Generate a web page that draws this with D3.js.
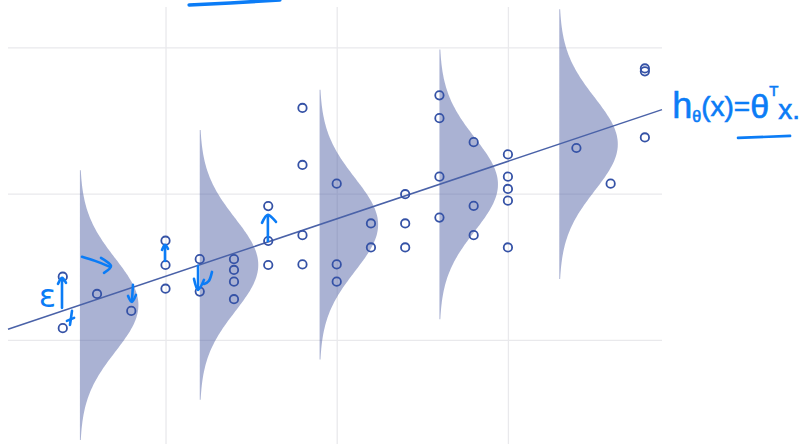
<!DOCTYPE html>
<html><head><meta charset="utf-8">
<script src="https://cdn.jsdelivr.net/npm/d3@7"></script>
<style>body{margin:0;background:#fff}svg{display:block}</style>
</head><body><svg id="c" width="800" height="444"></svg>
<script>
// ---- data ----
const xTicks = [5, 10, 15];
const yTicks = [0, 25, 50];
const pointX = [2,2, 3, 4, 5,5,5, 6,6, 7,7,7,7, 8,8,8, 9,9,9,9, 10,10,10, 11,11, 12,12,12, 13,13,13,13, 14,14,14, 15,15,15,15,15, 17, 18, 19,19,19];
const pointY = [10.8,2.0, 7.85, 4.95, 16.95,12.8,8.75, 13.8,8.25, 13.8,11.95,9.95,6.95, 22.87,16.9,12.8, 39.64,29.9,17.9,12.9, 26.7,12.9,9.95, 19.9,15.8, 24.9,19.9,15.8, 41.8,37.9,27.9,20.9, 33.8,22.9,17.9, 31.7,27.9,25.8,23.8,15.8, 32.8, 26.7, 46.4,45.9,34.6];
const violinX = [2.5, 6, 9.5, 13, 16.5];
const lineX = [0.4, 19.5];
const lineIntercept = 1.04, lineSlope = 1.965;
const noiseSigma = 7.95;
const violinPeakWidth = 1.71;

// handwritten formula pieces (one text, consecutive tspans)
const formulaText = ["h", "θ", "(x)=", "θ", "T", "x."];
const formulaSize = [36, 16, 28, 34, 15, 28];
const formulaDy = [0, 4, -6, 2, -22, 23];

// annotation strokes (data coordinates)
const strokes = [
  [[5.69,57.26],[6.89,57.6],[8.34,58.1]],
  [[1.977,5.47],[1.977,10.43]], [[1.86,9.57],[1.977,10.6],[2.094,9.74]],
  [[2.269,4.96],[2.24,3.76],[2.21,2.56]], [[2.12,3.25],[2.33,3.76]],
  [[2.561,14.19],[2.941,13.5],[3.379,12.48]], [[3.116,14.02],[3.408,12.65],[3.204,11.45]],
  [[4.05,9.4],[4.02,6.67]], [[3.905,7.52],[4.02,6.5],[4.138,7.69]],
  [[4.985,13.5],[4.985,16.07]], [[4.898,15.38],[4.985,16.24],[5.073,15.56]],
  [[5.95,12.65],[5.95,8.55]], [[5.832,10.43],[5.95,8.55],[6.124,10.26]],
  [[6.358,11.62],[6.27,10.09],[6.124,9.57]],
  [[7.99,16.92],[7.99,21.2]], [[7.818,20.0],[7.99,21.37],[8.227,20.17]],
  [[21.72,34.53],[23.24,34.87]]
];

// ---- scales ----
const x = d3.scaleLinear().domain([0.4, 19.5]).range([8, 662]);
const y = d3.scaleLinear().domain([-17.8, 56.9]).range([444, 7]);
const svg = d3.select("#c");

// grid
svg.append("g").call(d3.axisBottom(x).tickValues(xTicks).tickSize(-(444-7)).tickFormat(""))
  .attr("transform", `translate(0,444)`)
  .call(g => { g.select(".domain").remove(); g.selectAll("line").attr("stroke", "#e9e9ec").attr("stroke-width", 1.3); });
svg.append("g").call(d3.axisLeft(y).tickValues(yTicks).tickSize(-(662-8)).tickFormat(""))
  .attr("transform", `translate(8,0)`)
  .call(g => { g.select(".domain").remove(); g.selectAll("line").attr("stroke", "#e9e9ec").attr("stroke-width", 1.3); });

// violins (gaussian noise model around the line)
const ts = d3.range(-2.9, 2.9001, 0.05);
const area = d3.area().curve(d3.curveBasis)
  .x0(d => x(d.cx)).x1(d => x(d.cx + violinPeakWidth * Math.exp(-d.t*d.t/2)))
  .y(d => y(d.m + d.t * noiseSigma));
svg.append("g").selectAll("path").data(violinX).join("path")
  .attr("d", cx => area(ts.map(t => ({cx, t, m: lineIntercept + lineSlope * cx}))))
  .attr("fill", "#4e5ea3").attr("fill-opacity", 0.48);

// regression line
svg.append("path")
  .attr("d", d3.line()(lineX.map(v => [x(v), y(lineIntercept + lineSlope * v)])))
  .attr("stroke", "#4a62a8").attr("stroke-width", 1.5).attr("fill", "none");

// points
svg.append("g").selectAll("circle").data(pointX).join("circle")
  .attr("cx", d => x(d)).attr("cy", (d, i) => y(pointY[i])).attr("r", 4.2)
  .attr("fill", "none").attr("stroke", "#3552a6").attr("stroke-width", 1.8);

// annotations
const blue = "#0b7cf6";
const ln = d3.line().curve(d3.curveCardinal).x(d => x(d[0])).y(d => y(d[1]));
svg.append("g").selectAll("path").data(strokes).join("path")
  .attr("d", ln).attr("fill", "none").attr("stroke", blue)
  .attr("stroke-width", (d, i) => i === 0 ? 3.5 : 2.6).attr("stroke-linecap", "round").attr("stroke-linejoin", "round");

svg.append("text").attr("x", x(1.30)).attr("y", y(5.6))
  .attr("font-family", "DejaVu Sans").attr("font-size", 32).attr("fill", blue).text("ε");

const ft = svg.append("text").attr("x", x(19.80)).attr("y", y(37.95))
  .attr("font-family", "Liberation Sans, Arial, sans-serif")
  .attr("fill", blue).attr("stroke", blue).attr("stroke-width", 0.6);
ft.selectAll("tspan").data(formulaText).join("tspan")
  .attr("font-size", (d, i) => formulaSize[i]).attr("dy", (d, i) => formulaDy[i])
  .text(d => d);
</script></body></html>
